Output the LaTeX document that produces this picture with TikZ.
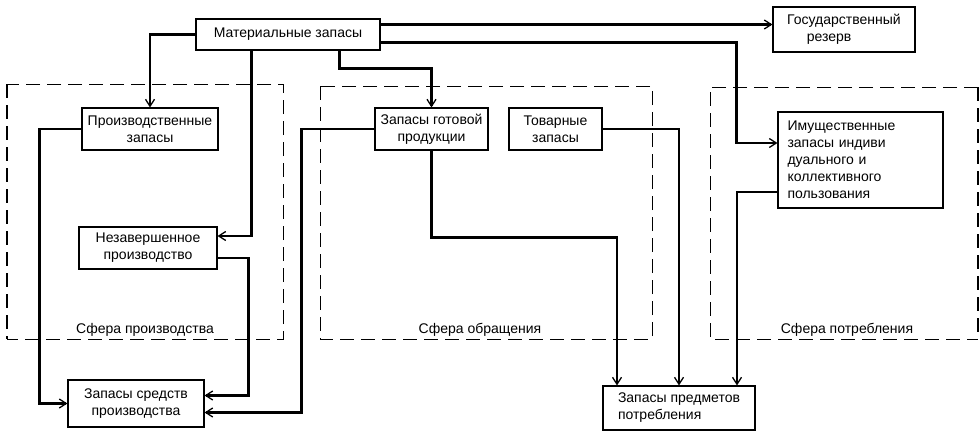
\documentclass[tikz,border=0pt]{standalone}
\usepackage{fontspec}
\setmainfont{Liberation Sans}
\usetikzlibrary{arrows.meta}

\tikzset{
    stock/.style={draw, line width=1.1pt, inner sep=3pt,
        font=\fontsize{14}{17}\selectfont},
    flow/.style={line width=2.8pt, -{Straight Barb[length=7pt,width=9pt,line width=1.3pt]}},
    sphere/.style={line width=1pt, dash pattern=on 14pt off 7pt},
    spherelabel/.style={font=\fontsize{14}{16}\selectfont, anchor=base}
}

\begin{document}
\begin{tikzpicture}[x=1pt, y=-1pt]
\useasboundingbox (0,0) rectangle (980,431);

% The three spheres are drawn as dashed frames, each with its name
% written just above the lower edge.
\draw[sphere] (7,84) rectangle (283,339);
\draw[sphere] (320,86) rectangle (652,339);
\draw[sphere] (978,87) -- (710,87) -- (710,339) -- (978,339);
\draw[sphere, line width=2.2pt] (7,84) -- (7,339);
\draw[sphere, line width=2.2pt] (978,87) -- (978,339);
\foreach \x/\text in {145/Сфера производства, 480/Сфера обращения, 847/Сфера потребления}
    \node[spherelabel] at (\x,333) {\text};

% The stocks themselves.
\node[stock, minimum width=184pt, minimum height=31pt] (mat) at (288,34.5) {Материальные запасы};
\node[stock, minimum width=142pt, minimum height=45pt, align=left] (gos) at (844,29.5)
    {Государственный\\\hspace{1.4em}резерв};
\node[stock, minimum width=136pt, minimum height=42pt, align=center] (proiz) at (150,129)
    {Производственные\\запасы};
\node[stock, minimum width=113pt, minimum height=42pt, align=center] (gotov) at (431.5,129)
    {Запасы готовой\\продукции};
\node[stock, minimum width=93pt, minimum height=42pt, align=center] (tov) at (555.5,129)
    {Товарные\\запасы};
\node[stock, minimum width=165pt, minimum height=96pt, text width=146pt, align=left] (imush)
    at (860.5,160) {Имущественные\\запасы индиви\\дуального и\\коллективного\\пользования};
\node[stock, minimum width=138pt, minimum height=42pt, align=center] (nezav) at (148,248)
    {Незавершенное\\производство};
\node[stock, minimum width=136pt, minimum height=47pt, align=center] (sredstv) at (136,403.5)
    {Запасы средств\\производства};
\node[stock, minimum width=152pt, minimum height=44pt, align=left] (predm) at (679,408)
    {Запасы предметов\\потребления};

% Flows out of the material stocks.
\draw[flow] (mat.west) -| (proiz.north);
\draw[flow] ([xshift=56pt]mat.south west) |- ([yshift=12pt]nezav.east);
\draw[flow] ([xshift=144pt]mat.south west) -- ++(0,18) -| (gotov.north);
\draw[flow] ([yshift=10pt]mat.east) coordinate (m1) -- (m1 -| gos.west);
\draw[flow] ([yshift=-8pt]mat.east) -| ([xshift=-41pt,yshift=17pt]imush.west)
    -- ([yshift=17pt]imush.west);

% Flows into the stocks of means of production.
\draw[flow] (proiz.west) -- ++(-42,0) |- (sredstv.west);
\draw[flow] ([yshift=-10pt]nezav.east) -- ++(31,0) |- ([yshift=8pt]sredstv.east);
\draw[flow] (gotov.west) -- ++(-73,0) |- ([yshift=-9pt]sredstv.east);

% Flows into the stocks of consumer goods.
\draw[flow] (gotov.south) -- ++(0,87) -| ([xshift=-62pt]predm.north);
\draw[flow] (tov.east) -| (predm.north);
\draw[flow] ([yshift=-32pt]imush.west) -| ([xshift=58pt]predm.north);
\end{tikzpicture}
\end{document}
